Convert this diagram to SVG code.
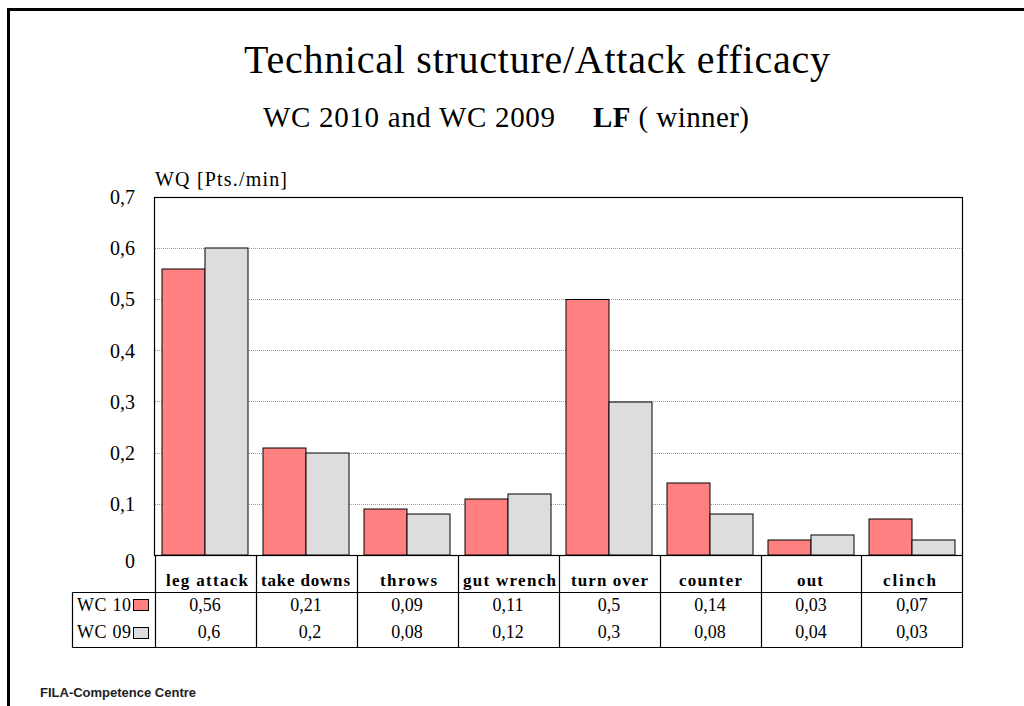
<svg xmlns="http://www.w3.org/2000/svg" width="1024" height="706" viewBox="0 0 1024 706">
<style>
.t{font-family:"Liberation Serif","Times New Roman",serif;fill:#000}
.title{font-size:40px}
.sub{font-size:29px}
.ax{font-size:20px;text-anchor:end}
.hd{font-size:17px;font-weight:bold}
.v{font-size:18px;text-anchor:middle}
.lg{font-size:18px}
.grid{stroke:#999;stroke-width:1;stroke-dasharray:1 1}
.r{fill:#FF8080;stroke:#000;stroke-width:1}
.g{fill:#DDDDDD;stroke:#000;stroke-width:1}
.ln{stroke:#000;stroke-width:1.2;fill:none}
</style>
<rect width="1024" height="706" fill="#fff"/>
<path d="M8.5,706 V9.5 H1024" fill="none" stroke="#000" stroke-width="3"/>
<g id="title">
<text class="t title" x="244" y="73" textLength="586">Technical structure/Attack efficacy</text>
<text class="t sub" x="263" y="127" textLength="292">WC 2010 and WC 2009</text>
<text class="t sub" x="593" y="127" textLength="156"><tspan font-weight="bold">LF</tspan> ( winner)</text>
</g>
<g id="axis">
<text class="t" x="155" y="186" font-size="20" textLength="132">WQ [Pts./min]</text>
<g class="grid">
<line x1="155" y1="248.5" x2="962" y2="248.5"/>
<line x1="155" y1="299.5" x2="962" y2="299.5"/>
<line x1="155" y1="350.5" x2="962" y2="350.5"/>
<line x1="155" y1="401.5" x2="962" y2="401.5"/>
<line x1="155" y1="453.5" x2="962" y2="453.5"/>
<line x1="155" y1="504.5" x2="962" y2="504.5"/>
</g>
<rect x="154.5" y="197.5" width="808" height="358" fill="none" stroke="#000" stroke-width="1.2"/>
<text class="t ax" x="135" y="204">0,7</text>
<text class="t ax" x="135" y="255">0,6</text>
<text class="t ax" x="135" y="306">0,5</text>
<text class="t ax" x="135" y="358">0,4</text>
<text class="t ax" x="135" y="409">0,3</text>
<text class="t ax" x="135" y="460">0,2</text>
<text class="t ax" x="135" y="511">0,1</text>
<text class="t ax" x="135" y="568">0</text>
</g>
<g id="bars">
<rect class="r" x="162" y="269" width="43" height="286"/>
<rect class="g" x="205" y="248" width="43" height="307"/>
<rect class="r" x="263" y="448" width="43" height="107"/>
<rect class="g" x="306" y="453" width="43" height="102"/>
<rect class="r" x="364" y="509" width="43" height="46"/>
<rect class="g" x="407" y="514" width="43" height="41"/>
<rect class="r" x="465" y="499" width="43" height="56"/>
<rect class="g" x="508" y="494" width="43" height="61"/>
<rect class="r" x="566" y="299.5" width="43" height="255.5"/>
<rect class="g" x="609" y="402" width="43" height="153"/>
<rect class="r" x="667" y="483" width="43" height="72"/>
<rect class="g" x="710" y="514" width="43" height="41"/>
<rect class="r" x="768" y="540" width="43" height="15"/>
<rect class="g" x="811" y="535" width="43" height="20"/>
<rect class="r" x="869" y="519" width="43" height="36"/>
<rect class="g" x="912" y="540" width="43" height="15"/>
</g>
<g id="table">
<path class="ln" d="M72.5,592.5 H963 M72.5,647.5 H963 M72.5,592.5 V647.5 M155.5,555 V647.5 M256.5,555 V647.5 M357.5,555 V647.5 M458.5,555 V647.5 M559.5,555 V647.5 M660.5,555 V647.5 M761.5,555 V647.5 M861.5,555 V647.5 M962.5,555 V647.5"/>
<text class="t lg" x="77" y="611" textLength="54">WC 10</text>
<rect class="r" x="133.5" y="599.5" width="15" height="11"/>
<text class="t lg" x="77" y="638" textLength="54">WC 09</text>
<rect class="g" x="133.5" y="627.5" width="15" height="11"/>
<text class="t hd" x="166" y="586" textLength="82">leg attack</text>
<text class="t hd" x="261" y="586" textLength="89">take downs</text>
<text class="t hd" x="380" y="586" textLength="57">throws</text>
<text class="t hd" x="463" y="586" textLength="93">gut wrench</text>
<text class="t hd" x="571" y="586" textLength="77">turn over</text>
<text class="t hd" x="679" y="586" textLength="63">counter</text>
<text class="t hd" x="797" y="586" textLength="26">out</text>
<text class="t hd" x="883" y="586" textLength="53">clinch</text>
<text class="t v" x="205" y="611">0,56</text>
<text class="t v" x="306" y="611">0,21</text>
<text class="t v" x="407" y="611">0,09</text>
<text class="t v" x="508" y="611">0,11</text>
<text class="t v" x="609" y="611">0,5</text>
<text class="t v" x="710" y="611">0,14</text>
<text class="t v" x="811" y="611">0,03</text>
<text class="t v" x="912" y="611">0,07</text>
<text class="t v" x="209" y="638">0,6</text>
<text class="t v" x="310" y="638">0,2</text>
<text class="t v" x="407" y="638">0,08</text>
<text class="t v" x="508" y="638">0,12</text>
<text class="t v" x="609" y="638">0,3</text>
<text class="t v" x="710" y="638">0,08</text>
<text class="t v" x="811" y="638">0,04</text>
<text class="t v" x="912" y="638">0,03</text>
</g>
<text x="40" y="697" font-family="Liberation Sans, Arial, sans-serif" font-weight="bold" font-size="13" fill="#222">FILA-Competence Centre</text>
</svg>
